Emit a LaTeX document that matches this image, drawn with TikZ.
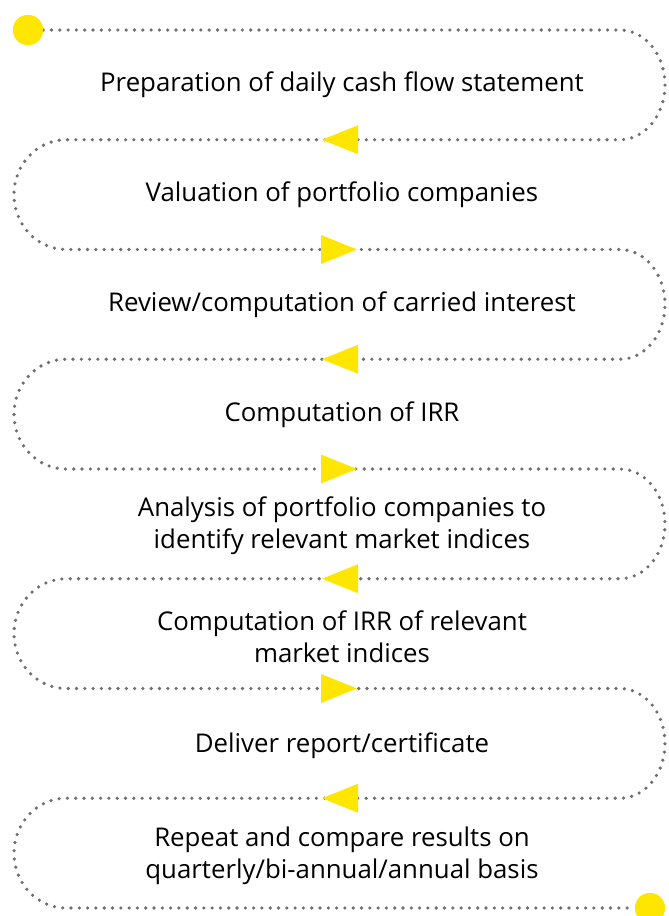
\documentclass[tikz,border=0pt]{standalone}
\usepackage{fontspec}
\setmainfont{Open Sans}
\usetikzlibrary{positioning}
\definecolor{eyYellow}{HTML}{FFE600}
\definecolor{dotGray}{HTML}{6F6F6F}

\begin{document}
\begin{tikzpicture}[
  x=1pt, y=-1pt,
  every node/.style={font=\fontsize{25.8}{32}\selectfont},
  trail/.style={draw=dotGray, line width=3.6pt, line cap=round,
                dash pattern=on 0pt off 8.3pt},
  marker/.style={circle, fill=eyYellow, minimum size=30pt, inner sep=0pt},
  stepnote/.style={align=center, inner sep=0pt},
  pointer/.style={fill=eyYellow},
  rturn/.style={start angle=-90, end angle=90, x radius=45, y radius=54.875},
  lturn/.style={start angle=270, end angle=90, x radius=52, y radius=54.875},
]
  \useasboundingbox (0,0) rectangle (669,916);

  % row ends of the winding trail
  \foreach \k in {0,...,8} {
    \coordinate (L\k) at (66,{30+109.75*\k});
    \coordinate (R\k) at (620,{30+109.75*\k});
  }

  % start and finish dots
  \node[marker] (start) at (28,30) {};
  \node[marker] (finish) at (650,908) {};

  % dotted trail
  \draw[trail] (start.east) -- (R0) arc[rturn]
    -- (L1) arc[lturn] -- (R2) arc[rturn]
    -- (L3) arc[lturn] -- (R4) arc[rturn]
    -- (L5) arc[lturn] -- (R6) arc[rturn]
    -- (L7) arc[lturn] -- (finish.west);
  \node[marker] at (start) {};
  \node[marker] at (finish) {};

  % direction pointers
  \foreach \k in {1,3,5,7}
    \fill[pointer] (358,{30+109.75*\k-14.5}) -- (322,{30+109.75*\k})
      -- (358,{30+109.75*\k+14.5}) -- cycle;
  \foreach \k in {2,4,6}
    \fill[pointer] (321,{30+109.75*\k-14.5}) -- (357,{30+109.75*\k})
      -- (321,{30+109.75*\k+14.5}) -- cycle;

  % steps
  \node[stepnote] (s1) at (342,85) {Preparation of daily cash flow statement};
  \node[stepnote] (s2) at (342,195) {Valuation of portfolio companies};
  \node[stepnote] (s3) at (342,305) {Review/computation of carried interest};
  \node[stepnote] (s4) at (342,415) {Computation of IRR};
  \node[stepnote] (s5) at (342,526) {Analysis of portfolio companies to\\identify relevant market indices};
  \node[stepnote] (s6) at (342,637) {Computation of IRR of relevant\\market indices};
  \node[stepnote] (s7) at (342,746) {Deliver report/certificate};
  \node[stepnote] (s8) at (342,856) {Repeat and compare results on\\quarterly/bi-annual/annual basis};
\end{tikzpicture}
\end{document}
